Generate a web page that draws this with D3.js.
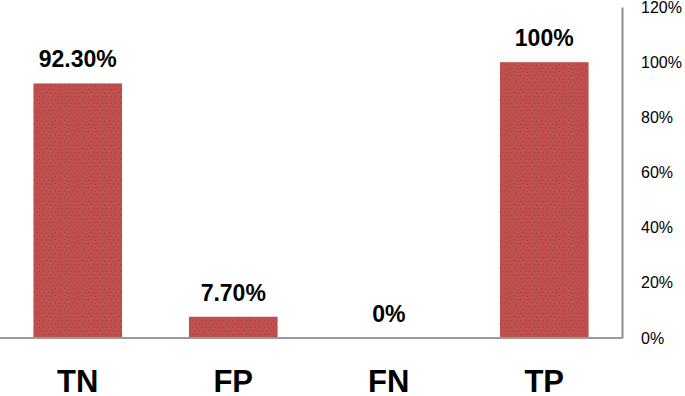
<!DOCTYPE html>
<meta charset="utf-8">
<style>
    body {margin: 0; background: #fff; font-family: 'Liberation Sans', Arial, sans-serif;}
    svg {display: block;}
</style>
<body>
<svg width="685" height="396"></svg>
<script src="https://d3js.org/d3.v7.min.js"></script>
<script>

var categories = ["TN", "FP", "FN", "TP"];
var values = [92.3, 7.7, 0, 100];
var valueLabels = ["92.30%", "7.70%", "0%", "100%"];
var tickValues = [0, 20, 40, 60, 80, 100, 120];

var svg = d3.select("svg");

var x = d3.scaleBand()
    .domain(categories)
    .range([0, 622])
    .paddingInner(0.43)
    .paddingOuter(0.215);

var y = d3.scaleLinear()
    .domain([0, 120])
    .range([338, 7]);

// speckled texture like the original fill
var defs = svg.append("defs");
var pat = defs.append("pattern")
    .attr("id", "speckle")
    .attr("patternUnits", "userSpaceOnUse")
    .attr("width", 9).attr("height", 7);
pat.append("rect").attr("width", 9).attr("height", 7).attr("fill", "#c0504d");
[[1, 1], [5, 2], [3, 5], [7, 5]].forEach(function(p) {
  pat.append("rect")
      .attr("x", p[0]).attr("y", p[1])
      .attr("width", 1).attr("height", 1)
      .attr("fill", "#7d3e3c")
      .attr("opacity", 0.7);
});

var data = categories.map(function(c, i) {
  return {cat: c, value: values[i], label: valueLabels[i]};
});

svg.append("g")
  .selectAll("rect")
  .data(data)
  .enter().append("rect")
    .attr("x", function(d) { return x(d.cat); })
    .attr("y", function(d) { return y(d.value); })
    .attr("width", x.bandwidth())
    .attr("height", function(d) { return y(0) - y(d.value); })
    .attr("fill", "url(#speckle)");

// baseline
svg.append("line")
    .attr("x1", 0).attr("x2", 622)
    .attr("y1", y(0)).attr("y2", y(0))
    .style("stroke", "#9a9a9a")
    .style("stroke-width", "2px");

// right axis
var axis = svg.append("g")
    .attr("transform", "translate(622,0)")
    .call(d3.axisRight(y)
      .tickValues(tickValues)
      .tickSize(0)
      .tickPadding(19)
      .tickFormat(function(d) { return d + "%"; }));
axis.select(".domain")
    .style("stroke", "#8c8c8c")
    .style("stroke-width", "2px");
axis.selectAll("text")
    .style("font-family", "'Liberation Sans', Arial, sans-serif")
    .style("font-size", "16px")
    .style("fill", "#000");

// value labels
svg.append("g")
  .selectAll("text")
  .data(data)
  .enter().append("text")
    .attr("x", function(d) { return x(d.cat) + x.bandwidth() / 2; })
    .attr("y", function(d) { return y(d.value) - 16; })
    .attr("text-anchor", "middle")
    .style("font-weight", "bold")
    .style("font-size", "23px")
    .text(function(d) { return d.label; });

// category labels
svg.append("g")
  .selectAll("text")
  .data(categories)
  .enter().append("text")
    .attr("x", function(d) { return x(d) + x.bandwidth() / 2; })
    .attr("y", 392)
    .attr("text-anchor", "middle")
    .style("font-weight", "bold")
    .style("font-size", "31px")
    .text(function(d) { return d; });

</script>
</body>
